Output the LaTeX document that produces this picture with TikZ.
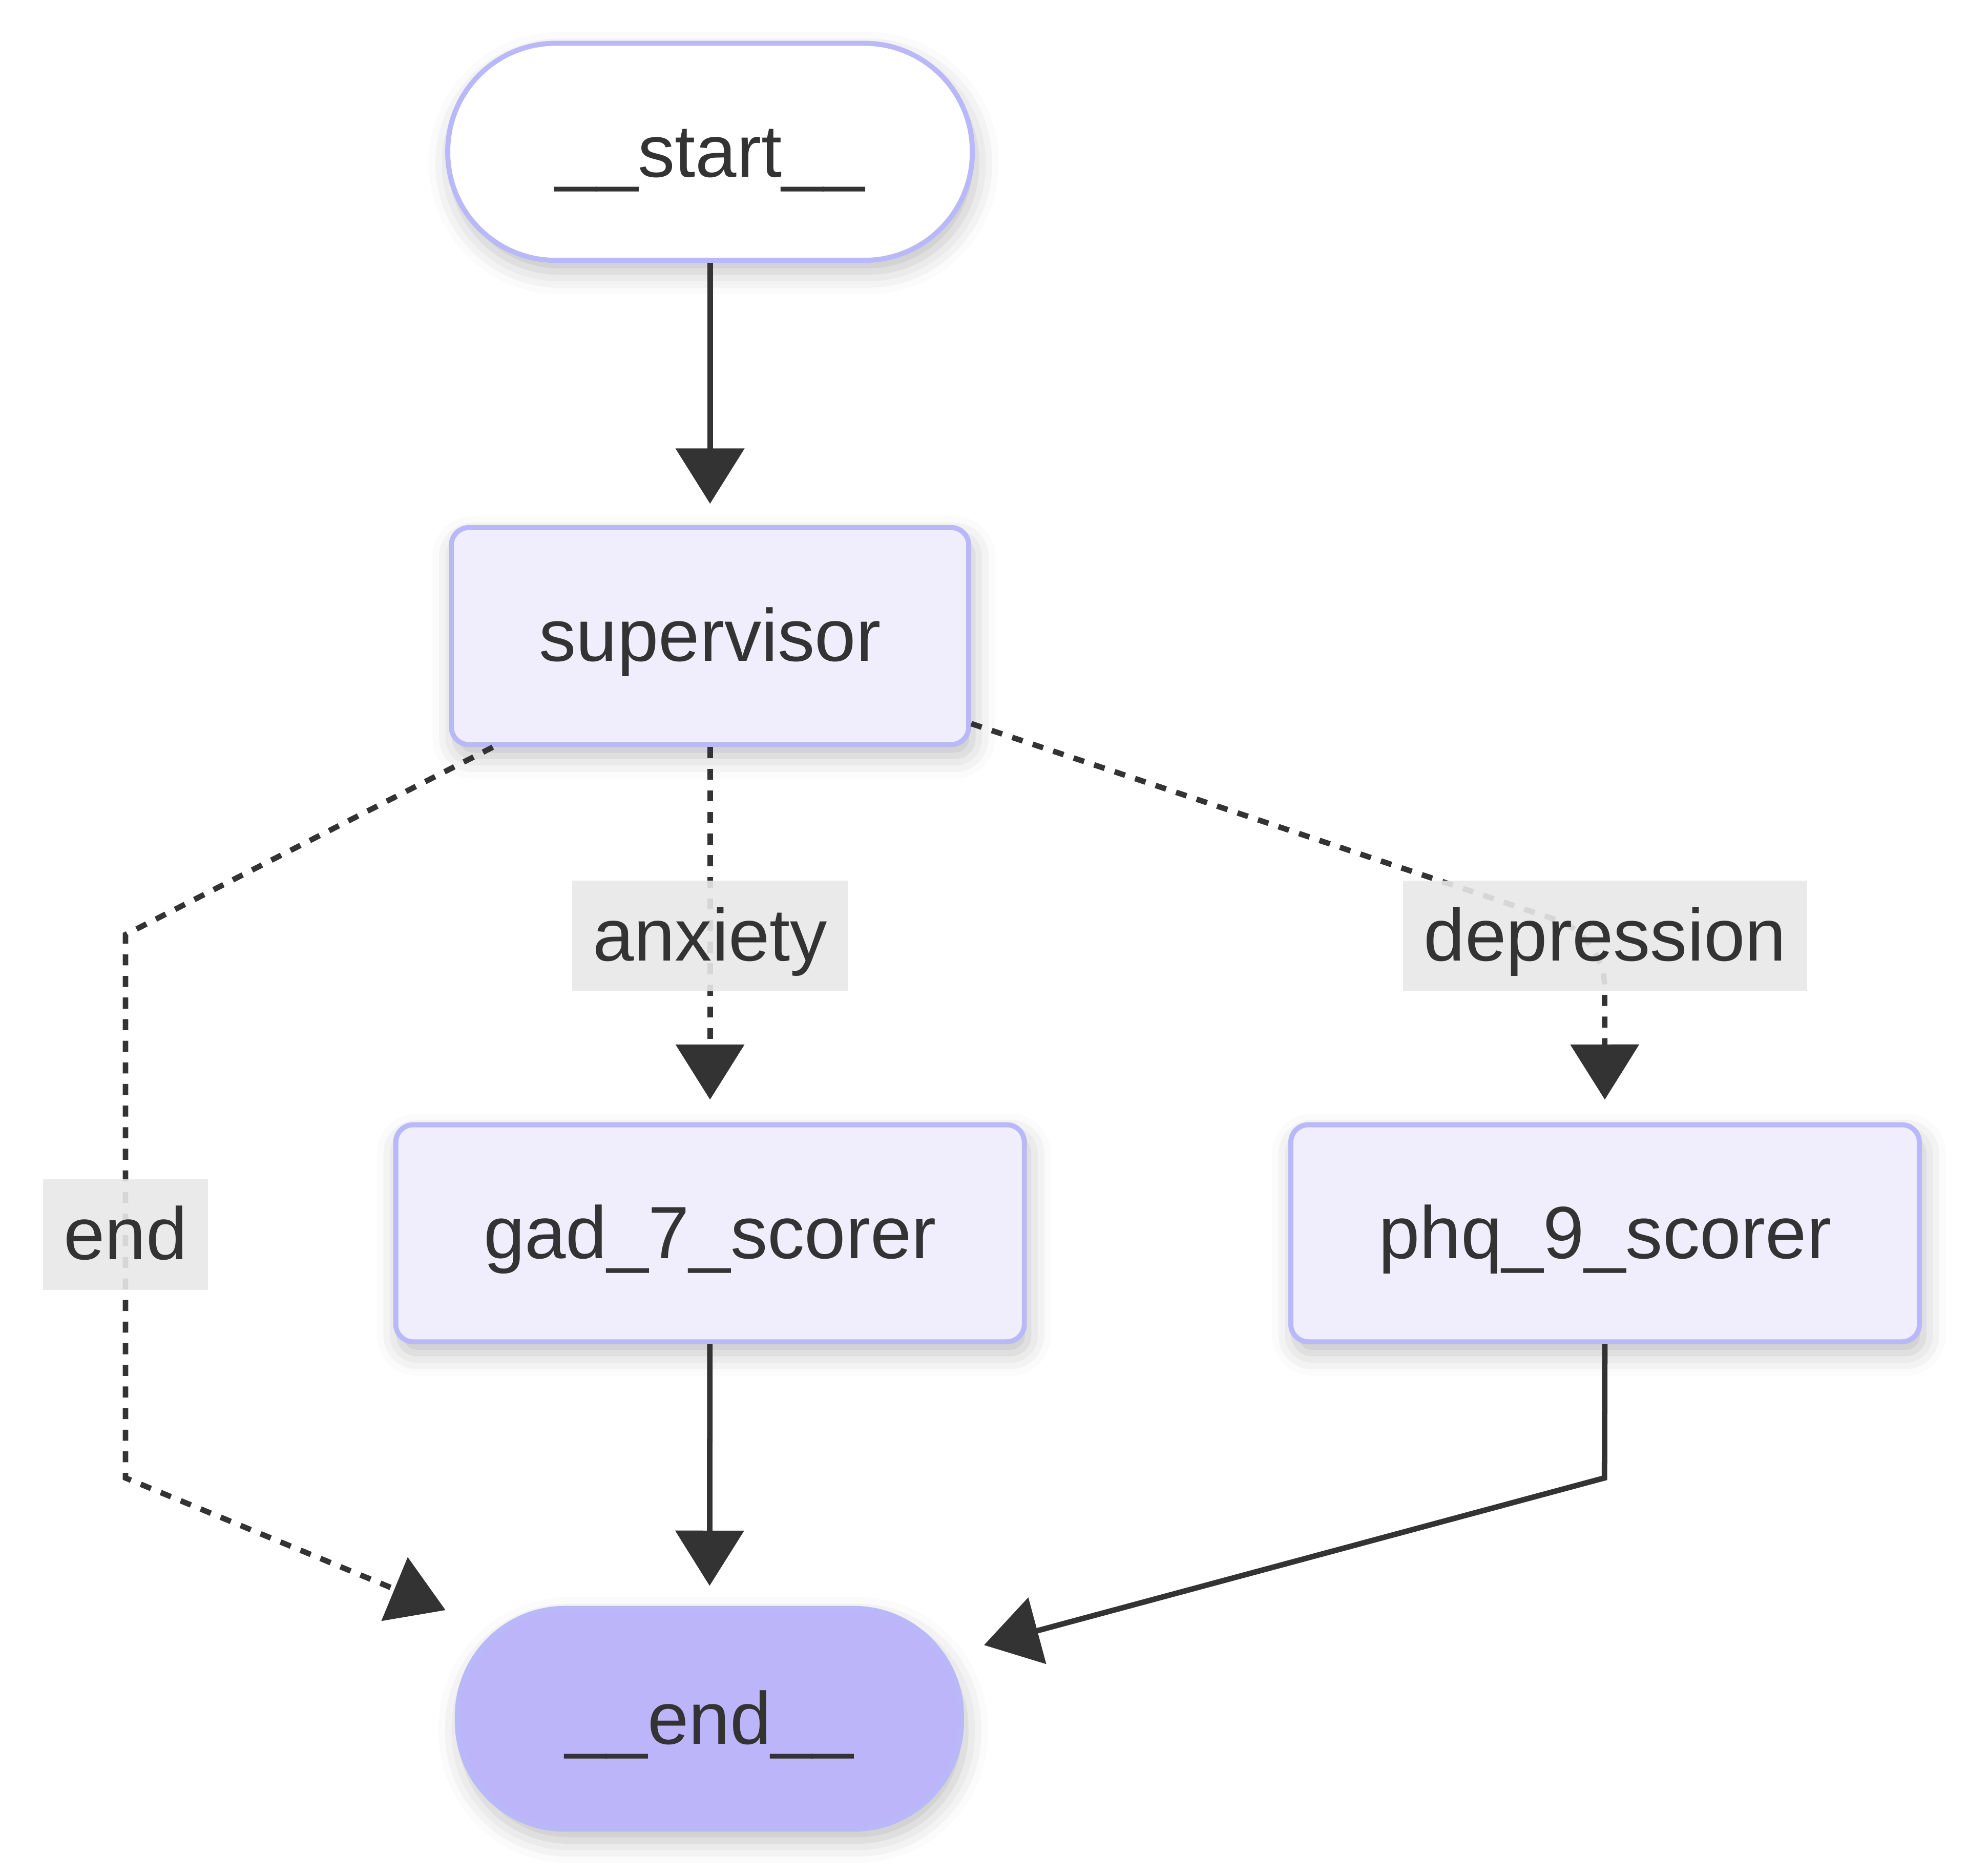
\documentclass[tikz,border=0pt]{standalone}
\usepackage{fontspec}
\setmainfont{Liberation Sans}
\usetikzlibrary{arrows.meta,shadows.blur}
\definecolor{nodeline}{HTML}{B9B9FA}
\definecolor{nodefill}{HTML}{F0EEFD}
\definecolor{endfill}{HTML}{BDB5F9}
\definecolor{labelfill}{HTML}{E8E8E8}
\definecolor{edgeline}{HTML}{333333}
\tikzset{
  box/.style={draw=nodeline, line width=1.15pt, fill=nodefill, rounded corners=0.14cm,
    minimum height=1.73cm, inner xsep=0.7cm, inner ysep=0pt, text=edgeline,
    text height=0.48cm, text depth=0.08cm,
    font=\fontsize{16.8pt}{20pt}\selectfont,
    blur shadow={shadow xshift=0.03cm, shadow yshift=-0.09cm, shadow blur radius=0.18cm, shadow opacity=25}},
  pill/.style={box, rounded corners=0.86cm, inner xsep=0.86cm},
  edgelbl/.style={fill=labelfill, fill opacity=0.9, text opacity=1, text=edgeline,
    inner xsep=0.165cm, inner ysep=0pt, minimum height=0.88cm,
    text height=0.48cm, text depth=0.08cm,
    font=\fontsize{16.8pt}{20pt}\selectfont},
  flow/.style={draw=edgeline, line width=1.25pt, -{Triangle[length=0.44cm,width=0.54cm]}},
  cond/.style={flow, dash pattern=on 2.5pt off 2.4pt}
}
\begin{document}
\begin{tikzpicture}
\useasboundingbox (0,0) rectangle (15.68,-14.95);
\coordinate (b1) at (1.00,-7.45);
\coordinate (b2) at (1.00,-11.78);
\coordinate (dbend) at (12.79,-7.46);
\coordinate (p1) at (12.79,-11.78);
\node[pill, fill=white] (start) at (5.66,-1.21) {\_\_start\_\_};
\node[box] (sup) at (5.66,-5.07) {supervisor};
\node[box] (gad) at (5.66,-9.83) {gad\_7\_scorer};
\node[box] (phq) at (12.795,-9.83) {phq\_9\_scorer};
\node[pill, fill=endfill, minimum height=1.76cm] (endnode) at (5.655,-13.70) {\_\_end\_\_};
\draw[flow, shorten >=0.17cm] (start) -- (sup);
\draw[cond, shorten >=0.18cm] (sup) -- (gad);
\draw[cond, shorten >=0.18cm, rounded corners=0.4cm] (sup) -- (dbend) -- (phq);
\draw[cond, shorten >=0.08cm] (sup) -- (b1) -- (b2) -- (endnode);
\draw[flow, shorten >=0.16cm] (gad) -- (endnode);
\draw[flow, shorten >=0.165cm] (phq) -- (p1) -- (endnode);
\node[edgelbl] (anxlbl) at (5.66,-7.46) {anxiety};
\node[edgelbl] (deplbl) at (12.795,-7.46) {depression};
\node[edgelbl] (endlbl) at (1.00,-9.84) {end};
\end{tikzpicture}
\end{document}
